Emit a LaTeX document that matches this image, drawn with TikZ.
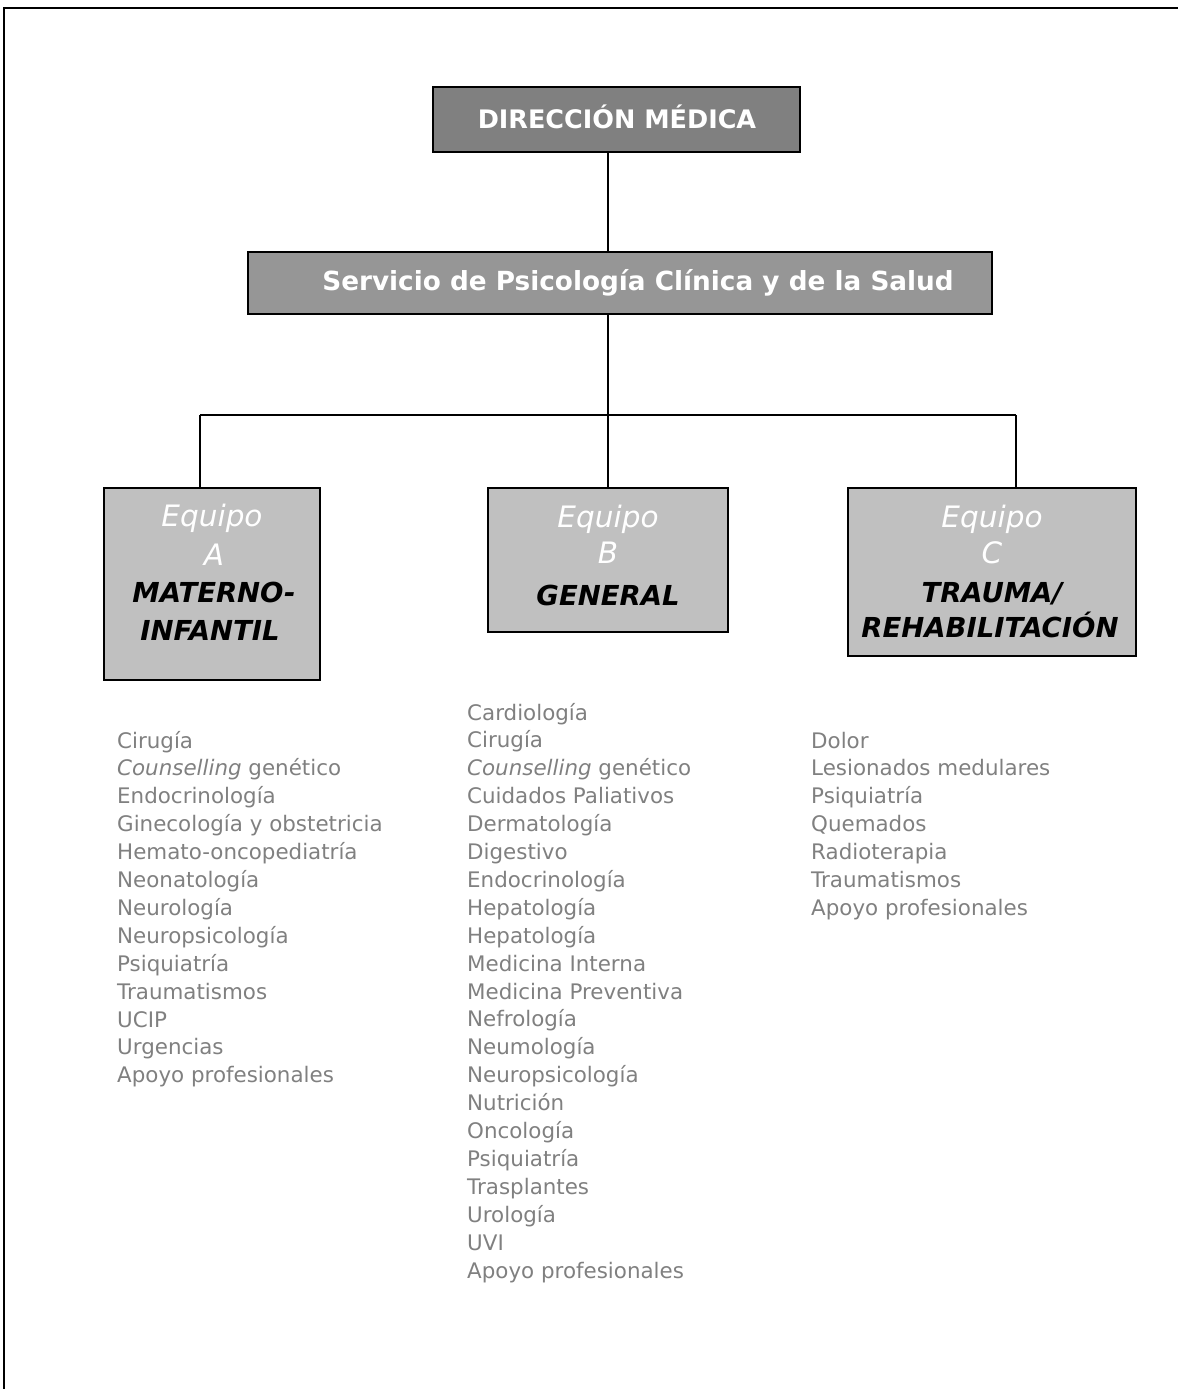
\documentclass[tikz,border=0pt]{standalone}
\usepackage{fontspec}
\setmainfont{DejaVu Sans}
\definecolor{darkbox}{HTML}{808080}
\definecolor{midbox}{HTML}{969696}
\definecolor{lightbox}{HTML}{C0C0C0}
\definecolor{listgray}{HTML}{808080}
\begin{document}
\begin{tikzpicture}[x=1pt,y=-1pt,
  box/.style={draw=black, line width=1.8pt, inner sep=0pt},
  boxtext/.style={anchor=base, inner sep=0pt, text=white, font=\fontsize{25.5}{30}\selectfont\bfseries},
  eqtext/.style={anchor=base, inner sep=0pt, text=white, font=\fontsize{29.5}{30}\selectfont\itshape},
  titletext/.style={anchor=base, inner sep=0pt, text=black, font=\fontsize{27.5}{30}\selectfont\bfseries\itshape},
  item/.style={anchor=base west, inner sep=0pt, text=listgray, font=\fontsize{21.4}{27.9}\selectfont},
  conn/.style={draw=black, line width=1.8pt},
  frame/.style={draw=black, line width=2.5pt}
]
\useasboundingbox (0,0) rectangle (1178,1389);
\coordinate (fa) at (4,1389);
\coordinate (fb) at (4,8);
\coordinate (fc) at (1178,8);
\draw[frame] (fa) -- (fb) -- (fc);

\node[box, fill=darkbox, minimum width=367pt, minimum height=65pt] (dir) at (616.5,119.5) {};
\node[boxtext] (dirt) at (617,128) {DIRECCIÓN MÉDICA};
\node[box, fill=midbox, minimum width=744pt, minimum height=62pt] (serv) at (620,283) {};
\node[boxtext, font=\fontsize{26.3}{30}\selectfont\bfseries] (servt) at (638,290) {Servicio de Psicología Clínica y de la Salud};

\node[box, fill=lightbox, minimum width=216pt, minimum height=192pt] (ta) at (212,584) {};
\node[box, fill=lightbox, minimum width=240pt, minimum height=144pt] (tb) at (608,560) {};
\node[box, fill=lightbox, minimum width=288pt, minimum height=168pt] (tc) at (992,572) {};

\node[eqtext] (ta1) at (212,526) {Equipo};
\node[eqtext] (ta2) at (214,565) {A};
\node[titletext] (ta3) at (214,602) {MATERNO-};
\node[titletext] (ta4) at (210,640) {INFANTIL};

\node[eqtext] (tb1) at (608,527) {Equipo};
\node[eqtext] (tb2) at (608,563) {B};
\node[titletext] (tb3) at (608,605) {GENERAL};

\node[eqtext] (tc1) at (992,527) {Equipo};
\node[eqtext] (tc2) at (992,563) {C};
\node[titletext] (tc3) at (992,602) {TRAUMA/};
\node[titletext] (tc4) at (990,637) {REHABILITACIÓN};

\coordinate (j) at (608,415);
\coordinate (ja) at (200,415);
\coordinate (jc) at (1016,415);
\draw[conn] (dir.south -| j) -- (serv.north -| j);
\draw[conn] (serv.south -| j) -- (j);
\draw[conn] (ja) -- (jc);
\draw[conn] (ja) -- (ja |- ta.north);
\draw[conn] (j) -- (tb.north);
\draw[conn] (jc) -- (jc |- tc.north);

\foreach \t [count=\i] in {Cirugía, {\itshape Counselling} genético, Endocrinología,
  Ginecología y obstetricia, Hemato-oncopediatría, Neonatología, Neurología,
  Neuropsicología, Psiquiatría, Traumatismos, UCIP, Urgencias, Apoyo profesionales}
  \node[item] (la\i) at (117,{748+(\i-1)*27.9}) {\t};

\foreach \t [count=\i] in {Cardiología, Cirugía, {\itshape Counselling} genético,
  Cuidados Paliativos, Dermatología, Digestivo, Endocrinología, Hepatología,
  Hepatología, Medicina Interna, Medicina Preventiva, Nefrología, Neumología,
  Neuropsicología, Nutrición, Oncología, Psiquiatría, Trasplantes, Urología, UVI,
  Apoyo profesionales}
  \node[item] (lb\i) at (467,{720+(\i-1)*27.9}) {\t};

\foreach \t [count=\i] in {Dolor, Lesionados medulares, Psiquiatría, Quemados,
  Radioterapia, Traumatismos, Apoyo profesionales}
  \node[item] (lc\i) at (811,{748+(\i-1)*27.9}) {\t};
\end{tikzpicture}
\end{document}
